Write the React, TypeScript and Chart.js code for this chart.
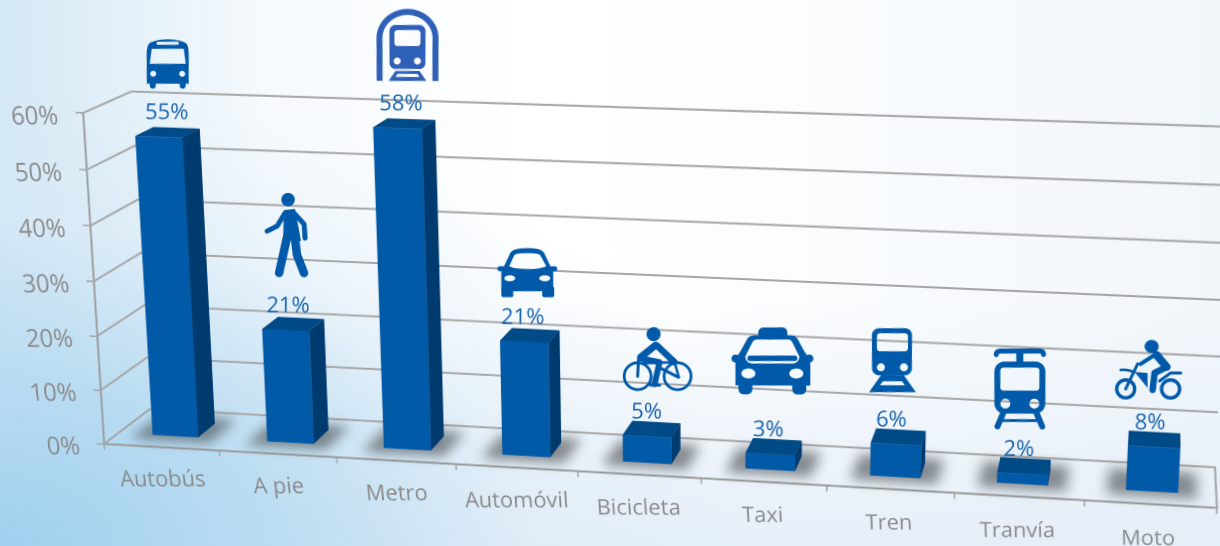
import React, { useEffect, useRef } from "react";
import { Chart, registerables } from "chart.js";

Chart.register(...registerables);

const categories = ["Autobús", "A pie", "Metro", "Automóvil", "Bicicleta", "Taxi", "Tren", "Tranvía", "Moto"];
const shares = [55, 21, 58, 21, 5, 3, 6, 2, 8];
const yTicks = [0, 10, 20, 30, 40, 50, 60];

const FONT = '"Open Sans"';
const GREY = "#8a8a8a";
const LINE = "#a6a6a6";
const FRONT = "#005aa8";
const SIDE = "#003b70";
const TOP = "#004a87";
const LABEL = "#1763ad";
const BAR_SHIFT = 1;

// helpers for icon outlines
const rr = (x: number, y: number, w: number, h: number, r: number) =>
  `M${x + r},${y}H${x + w - r}A${r},${r} 0 0 1 ${x + w},${y + r}V${y + h - r}A${r},${r} 0 0 1 ${x + w - r},${y + h}H${x + r}A${r},${r} 0 0 1 ${x},${y + h - r}V${y + r}A${r},${r} 0 0 1 ${x + r},${y}Z`;
const el = (cx: number, cy: number, rx: number, ry: number = rx) =>
  `M${cx - rx},${cy}A${rx},${ry} 0 1 0 ${cx + rx},${cy}A${rx},${ry} 0 1 0 ${cx - rx},${cy}Z`;

type Icon = { w: number; h: number; color?: string; fills: string[]; strokes?: [string, number][]; dx: number; rise: number; labelDx: number };

const icons: Icon[] = [
  { // bus
    w: 42, h: 50, dx: 9, rise: 73, labelDx: 7,
    fills: [
      "M0,45V17C0,6 2,4 6,3C14,0 28,0 36,3C40,4 42,6 42,17V45Z" +
        "M5,10L37,10L39,25L3,25Z" + rr(10, 3, 22, 3, 1) + el(6.5, 35, 3) + el(35.5, 35, 3),
      rr(3, 42, 6, 8, 3), rr(33, 42, 6, 8, 3),
    ],
  },
  { // walker
    w: 44, h: 84, dx: 0.5, rise: 95, labelDx: 1.5,
    fills: [el(24, 6.7, 6.7), "M20,17L31,16L37,48L19,46Z"],
    strokes: [
      ["M21,20L13,33L3,38", 5],
      ["M29,19L40,31L41,45", 5],
      ["M23,44L15,80", 8.5],
      ["M31,46L33,62L40,80", 8.5],
    ],
  },
  { // metro
    w: 62, h: 72, dx: 10, rise: 83, labelDx: 2.5, color: "#2f60b8",
    fills: [
      "M0,72V29A31,29 0 0 1 62,29V72H56V29A25,23 0 0 0 6,29V72Z",
      rr(13, 16, 36, 44, 6) + rr(18, 21, 26, 16, 3) + el(20.7, 52, 3.5) + el(41, 52, 3.5),
      "M19,62H43L50,72H12ZM21,65L19,68H43L41,65Z",
    ],
  },
  { // car
    w: 60, h: 49, dx: 3, rise: 69, labelDx: -2.5,
    fills: [
      "M4,24L13,5C15,2 18,0 30,0C42,0 45,2 47,5L56,24V43H4Z" +
        "M12,18L17,7C18,6 20,5 30,5C40,5 42,6 43,7L49,18C40,22 20,22 12,18Z" + el(12.5, 30, 5.5, 3) + el(47.5, 30, 5.5, 3),
      rr(0, 18, 8, 5, 2.5), rr(52, 18, 8, 5, 2.5), rr(4, 38, 12, 11, 2), rr(45, 38, 12, 11, 2),
    ],
  },
  { // bicycle
    w: 70, h: 64, dx: 10.5, rise: 77, labelDx: -1.5,
    fills: [el(31, 7, 7)],
    strokes: [
      [el(15, 49, 13.5), 2.8],
      [el(55, 49, 13.5), 2.8],
      ["M34,18L52,35", 6.5],
      ["M33,18L18,30", 7],
      ["M18,31L37,35L32,57", 6],
      ["M16,31L15,49", 3],
      ["M20,36L52,35L56,49", 2.5],
      ["M36,40L56,50", 3],
      ["M28,58H37", 3],
    ],
  },
  { // taxi
    w: 82, h: 67, dx: 2, rise: 93, labelDx: -3,
    fills: [
      rr(27, 0, 29, 12, 5),
      "M4,38C4,32 6,28 9,24L15,13C17,9 19,8 24,8H58C63,8 65,9 67,13L73,24C76,28 79,32 79,38V58H4Z" +
        "M14,29L21,15C22,13 24,12 26,12H57C59,12 60,13 61,15L68,29C68,33 65,36 61,36H21C17,36 14,33 14,29Z" +
        el(17, 46, 7, 5) + el(65, 46, 7, 5),
      rr(16, 28, 50, 5.5, 2.5),
      rr(0, 27, 8, 8, 4), rr(74, 27, 8, 8, 4),
      rr(7, 52, 14, 15, 5), rr(61, 52, 14, 15, 5),
    ],
  },
  { // train
    w: 47, h: 64, dx: -3.5, rise: 84, labelDx: -5.5,
    fills: [
      rr(3, 0, 40, 47, 7) + rr(8, 5, 31, 18, 3) + el(12, 39, 4) + el(35, 39, 4),
      "M12,47H35L47,64H0ZM14,53L11,57H36L33,53Z",
    ],
  },
  { // tram
    w: 53, h: 80, dx: -3, rise: 85, labelDx: -5,
    fills: [
      "M23,4H30V14H23Z",
      rr(1, 13, 51, 52, 10) + rr(7, 19, 39, 23, 3) + el(12, 55, 5) + el(41, 55, 5),
    ],
    strokes: [
      ["M3,6C3,3 5,2.5 8,2.5H45C48,2.5 50,3 50,6", 5],
      ["M10,64L4,78", 6],
      ["M43,64L49,78", 6],
      ["M9,72H44", 3],
    ],
  },
  { // motorbike
    w: 67, h: 60, dx: -6, rise: 77, labelDx: -5,
    fills: [el(37, 6.5, 7, 6.5), "M20,32L33,33V48Z"],
    strokes: [
      [el(11, 49, 9), 3.5],
      [el(56, 49, 9), 3.5],
      ["M42,15L52,27", 8],
      ["M52,27L40,33L38,50", 6.5],
      ["M40,15L26,24", 4],
      ["M23,24L11,49", 3],
      ["M6,30C12,29 16,31 20,32", 2.5],
      ["M45,41L56,33L66,33", 3],
    ],
  },
];

// where the corners of the front plane and the back wall land in the 1220x546 picture
const FRONT_TL = [83, 113];
const FRONT_TR = [1237, 152];
const FRONT_BR = [1217, 508];
const FRONT_BL = [104, 444];
const WALL_BL = [150, 409];
const VANISH = [1174, -372];

type M3 = number[];
const apply = (m: M3, x: number, y: number) => {
  const w = m[6] * x + m[7] * y + m[8];
  return [(m[0] * x + m[1] * y + m[2]) / w, (m[3] * x + m[4] * y + m[5]) / w];
};
const invert = (m: M3): M3 => {
  const [a, b, c, d, e, f, g, h, i] = m;
  const A = e * i - f * h, B = c * h - b * i, C = b * f - c * e;
  const D = f * g - d * i, E = a * i - c * g, F = c * d - a * f;
  const G = d * h - e * g, H = b * g - a * h, I = a * e - b * d;
  const det = a * A + b * D + c * G;
  return [A / det, B / det, C / det, D / det, E / det, F / det, G / det, H / det, I / det];
};
const homography = (L: number, T: number, W: number, Ht: number): M3 => {
  const [x0, y0] = FRONT_TL, [x1, y1] = FRONT_TR, [x2, y2] = FRONT_BR, [x3, y3] = FRONT_BL;
  const dx1 = x1 - x2, dx2 = x3 - x2, sx = x0 - x1 + x2 - x3;
  const dy1 = y1 - y2, dy2 = y3 - y2, sy = y0 - y1 + y2 - y3;
  const den = dx1 * dy2 - dx2 * dy1;
  const g = (sx * dy2 - dx2 * sy) / den, h = (dx1 * sy - sx * dy1) / den;
  const a = x1 - x0 + g * x1, b = x3 - x0 + h * x3, c = x0;
  const d = y1 - y0 + g * y1, e = y3 - y0 + h * y3, f = y0;
  return [
    a / W, b / Ht, c - (a * L) / W - (b * T) / Ht,
    d / W, e / Ht, f - (d * L) / W - (e * T) / Ht,
    g / W, h / Ht, 1 - (g * L) / W - (h * T) / Ht,
  ];
};

export default function App() {
  const ref = useRef<HTMLCanvasElement>(null);
  useEffect(() => {
    const canvas = ref.current!;
    let M: M3 = [1, 0, 0, 0, 1, 0, 0, 0, 1];
    let Mi: M3 = M;
    let vx = 0, vy = 0, tW = 0.04, tF = 0.012, tB = 0.028;
    const P = (x: number, y: number, t: number) => [vx + (1 - t) * (x - vx), vy + (1 - t) * (y - vy)];
    const jac = (x: number, y: number) => {
      const p = apply(M, x, y), px = apply(M, x + 1, y), py = apply(M, x, y + 1);
      return [px[0] - p[0], py[0] - p[0], px[1] - p[1], py[1] - p[1]];
    };
    const poly = (ctx: CanvasRenderingContext2D, pts: number[][], fill: string) => {
      ctx.beginPath();
      pts.forEach((p, i) => (i ? ctx.lineTo(p[0], p[1]) : ctx.moveTo(p[0], p[1])));
      ctx.closePath();
      ctx.fillStyle = fill;
      ctx.fill();
    };
    // draws in picture pixels around a picture position, so the result stays upright
    const atScreen = (ctx: CanvasRenderingContext2D, sx: number, sy: number, fn: () => void) => {
      const f = apply(Mi, sx, sy);
      const [a, b, c, d] = jac(f[0], f[1]);
      const det = a * d - b * c;
      ctx.save();
      ctx.translate(f[0], f[1]);
      ctx.transform(d / det, -c / det, -b / det, a / det, 0, 0);
      fn();
      ctx.restore();
    };

    const perspective = {
      id: "perspective",
      afterLayout(chart: any) {
        const a = chart.chartArea;
        M = homography(a.left, a.top, a.right - a.left, a.bottom - a.top);
        Mi = invert(M);
        const v = apply(Mi, VANISH[0], VANISH[1]);
        vx = v[0];
        vy = v[1];
        const w = apply(Mi, WALL_BL[0], WALL_BL[1]);
        tW = Math.hypot(w[0] - a.left, w[1] - a.bottom) / Math.hypot(vx - a.left, vy - a.bottom);
        tF = tW * 0.3;
        tB = tW * 0.69;
        canvas.style.transform = `matrix3d(${M[0]},${M[3]},0,${M[6]},${M[1]},${M[4]},0,${M[7]},0,0,1,0,${M[2]},${M[5]},0,${M[8]})`;
      },
      beforeDraw(chart: any) {
        // keep the axis labels level and evenly sized after the warp
        for (const [id, size, drop, nudge] of [["x", 22, 0, -1.5], ["y", 24, 5, -1]] as [string, number, number, number][]) {
          for (const item of chart.scales[id].getLabelItems()) {
            const [px, py] = item.options.translation;
            const [a, , c] = jac(px, py);
            const s = size / Math.hypot(a, c);
            item.options.translation = [px + nudge, py];
            item.options.rotation = -Math.atan2(c, a);
            item.textOffset += drop;
            item.font = { ...item.font, size: s, string: `${s}px ${FONT}` };
          }
        }
      },
      beforeDatasetsDraw(chart: any) {
        const ctx = chart.ctx as CanvasRenderingContext2D;
        const a = chart.chartArea;
        const yS = chart.scales.y;
        ctx.save();
        ctx.strokeStyle = LINE;
        ctx.lineWidth = 2;
        for (const v of yTicks) {
          const y = yS.getPixelForValue(v);
          const f = P(a.left, y, 0), b = P(a.left, y, tW), r = P(a.right, y, tW);
          ctx.beginPath();
          ctx.moveTo(f[0], f[1]);
          ctx.lineTo(b[0], b[1]);
          ctx.lineTo(r[0], r[1]);
          if (v === 0) {
            const e = P(a.right, y, 0);
            ctx.lineTo(e[0], e[1]);
          }
          ctx.stroke();
        }
        ctx.restore();

        const bars = chart.getDatasetMeta(0).data;
        ctx.save();
        ctx.filter = "blur(12px)";
        for (const b of bars) {
          const x0 = b.x - b.width / 2 - 18 + BAR_SHIFT, x1 = b.x + b.width / 2 + 18 + BAR_SHIFT;
          const t0 = tF - tW * 0.13, t1 = tB + tW * 0.13;
          poly(ctx, [P(x0, b.base, t0), P(x1, b.base, t0), P(x1, b.base, t1), P(x0, b.base, t1)], "rgba(70,74,78,0.62)");
        }
        ctx.restore();

        for (const b of bars) {
          const x0 = b.x - b.width / 2 + BAR_SHIFT, x1 = b.x + b.width / 2 + BAR_SHIFT;
          poly(ctx, [P(x1, b.y, tF), P(x1, b.y, tB), P(x1, b.base, tB), P(x1, b.base, tF)], SIDE);
          poly(ctx, [P(x0, b.y, tF), P(x1, b.y, tF), P(x1, b.y, tB), P(x0, b.y, tB)], TOP);
        }
        // the chart's own bars stand a little way behind the front axis
        const s = 1 - tF;
        ctx.save();
        ctx.translate(vx, vy);
        ctx.scale(s, s);
        ctx.translate(-vx, -vy);
        ctx.translate(BAR_SHIFT, 0);
      },
      afterDatasetsDraw(chart: any) {
        const ctx = chart.ctx as CanvasRenderingContext2D;
        ctx.restore();
        const bars = chart.getDatasetMeta(0).data;
        bars.forEach((b: any, i: number) => {
          const top = P(b.x + BAR_SHIFT, b.y, tF);
          const [sx, sy] = apply(M, top[0], top[1]);
          const ic = icons[i];
          atScreen(ctx, sx + ic.labelDx + 1, sy - 24, () => {
            ctx.font = `22px ${FONT}`;
            ctx.fillStyle = LABEL;
            ctx.textAlign = "center";
            ctx.textBaseline = "middle";
            ctx.fillText(`${shares[i]}%`, 0, 0);
          });
          atScreen(ctx, sx + ic.dx, sy - ic.rise, () => {
            ctx.translate(-ic.w / 2, -ic.h / 2);
            const c = ic.color ?? "#005aa9";
            ctx.fillStyle = c;
            ctx.strokeStyle = c;
            ctx.lineCap = "round";
            ctx.lineJoin = "round";
            for (const d of ic.fills) ctx.fill(new Path2D(d), "evenodd");
            for (const [d, lw] of ic.strokes ?? []) {
              ctx.lineWidth = lw;
              ctx.stroke(new Path2D(d));
            }
          });
        });
      },
    };

    const chart = new Chart(canvas, {
      type: "bar",
      data: {
        labels: categories,
        datasets: [
          {
            data: shares,
            backgroundColor: FRONT,
            borderWidth: 0,
            categoryPercentage: 1,
            barPercentage: 0.4,
            clip: false,
          } as any,
        ],
      },
      options: {
        responsive: false,
        animation: false,
        devicePixelRatio: 2,
        layout: { padding: { top: 150, right: 30, bottom: 62, left: 34 } },
        plugins: { legend: { display: false }, tooltip: { enabled: false } },
        scales: {
          x: {
            grid: { drawOnChartArea: false, drawTicks: true, tickLength: 6, color: LINE, lineWidth: 1.6 },
            border: { color: "#999999", width: 2 },
            ticks: {
              maxRotation: 0,
              minRotation: 0,
              autoSkip: false,
              color: GREY,
              padding: 16,
              font: { family: FONT, size: 22 },
            },
          },
          y: {
            min: 0,
            max: 60,
            grid: { drawOnChartArea: false, drawTicks: true, tickLength: 8, color: LINE, lineWidth: 1.6 },
            border: { color: "#999999", width: 2 },
            ticks: {
              stepSize: 10,
              color: GREY,
              padding: 18,
              font: { family: FONT, size: 24 },
              callback: (v: any) => `${v}%`,
            },
          },
        },
      },
      plugins: [perspective as any],
    });
    return () => chart.destroy();
  }, []);

  return (
    <div
      style={{
        position: "fixed",
        left: 0,
        top: 0,
        width: 1220,
        height: 546,
        overflow: "hidden",
        background:
          "radial-gradient(ellipse 760px 460px at 0% 100%, #9fd0ee 0%, rgba(175,215,240,0.8) 35%, rgba(210,230,245,0.35) 70%, rgba(225,238,248,0) 100%), linear-gradient(180deg, rgba(228,238,248,0) 55%, rgba(228,238,248,0.9) 100%), linear-gradient(90deg, #d4e8f5 0%, #f6fafd 22%, #ffffff 45%, #f8fbfd 75%, #f1f6fa 100%), #fff",
      }}
    >
      <canvas
        ref={ref}
        width={1290}
        height={620}
        style={{ position: "absolute", left: 0, top: 0, transformOrigin: "0 0", display: "block" }}
      />
    </div>
  );
}
